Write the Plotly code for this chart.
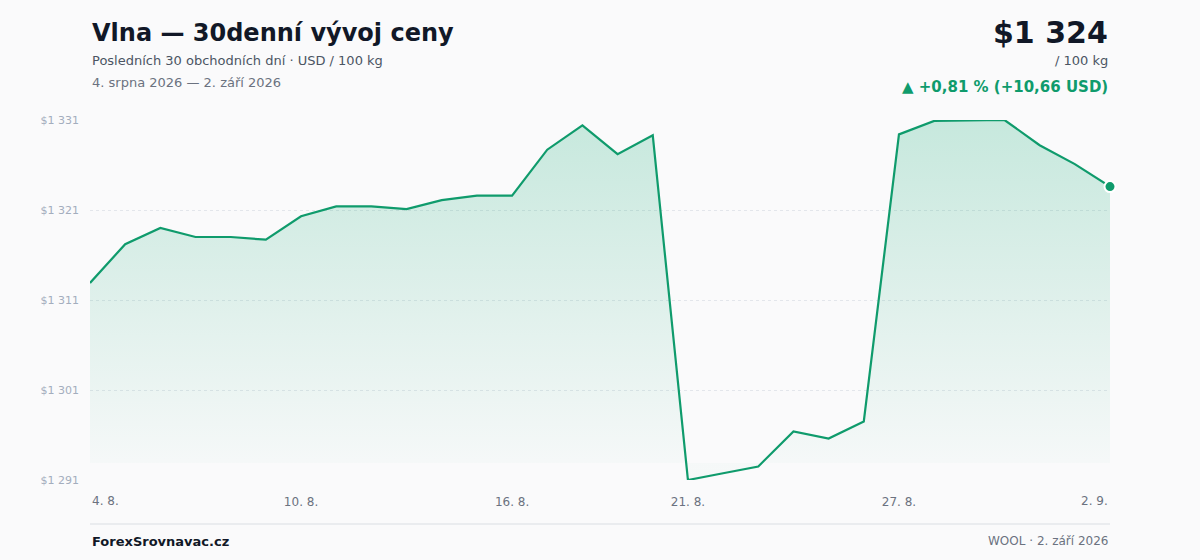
import plotly.graph_objects as go

# ---- data ----
dates = [
    "2026-08-04", "2026-08-05", "2026-08-06", "2026-08-07", "2026-08-08",
    "2026-08-09", "2026-08-10", "2026-08-11", "2026-08-12", "2026-08-13",
    "2026-08-14", "2026-08-15", "2026-08-16", "2026-08-17", "2026-08-18",
    "2026-08-19", "2026-08-20", "2026-08-21", "2026-08-22", "2026-08-23",
    "2026-08-24", "2026-08-25", "2026-08-26", "2026-08-27", "2026-08-28",
    "2026-08-29", "2026-08-30", "2026-08-31", "2026-09-01", "2026-09-02",
]
prices = [
    1312.9, 1317.2, 1319.0, 1318.0, 1318.0, 1317.7, 1320.3, 1321.4, 1321.4, 1321.1,
    1322.1, 1322.6, 1322.6, 1327.7, 1330.4, 1327.2, 1329.3, 1291.0, 1291.75, 1292.5,
    1296.4, 1295.6, 1297.5, 1329.4, 1330.9, 1330.95, 1331.0, 1328.2, 1326.1, 1323.6,
]
x_tick_vals = ["2026-08-04", "2026-08-10", "2026-08-16", "2026-08-21", "2026-08-27", "2026-09-02"]
x_tick_text = ["4. 8.", "10. 8.", "16. 8.", "21. 8.", "27. 8.", "2. 9."]
y_tick_vals = [1291, 1301, 1311, 1321, 1331]
y_tick_text = ["$1 291", "$1 301", "$1 311", "$1 321", "$1 331"]
fill_base = 1292.9

title = "Vlna — 30denní vývoj ceny"
subtitle = "Posledních 30 obchodních dní · USD / 100 kg"
date_range = "4. srpna 2026 — 2. září 2026"
last_price = "$1 324"
unit = "/ 100 kg"
change = "▲ +0,81 % (+10,66 USD)"
brand = "ForexSrovnavac.cz"
source = "WOOL · 2. září 2026"

# ---- style ----
GREEN = "#0f9b6c"
BG = "#fafafb"
FONT = "DejaVu Sans"
W, H = 1200, 560
ML, MR, MT, MB = 90, 90, 120, 80
PLOT_H = H - MT - MB
XTICK_FONT = dict(size=12, color="#6b7280", family=FONT)


def py(y_px):
    """pixel y (from top) -> paper y"""
    return (H - MB - y_px) / PLOT_H


fig = go.Figure()

fig.add_trace(go.Scatter(
    x=dates, y=[fill_base] * len(dates), mode="lines",
    line=dict(width=0, color="rgba(0,0,0,0)"), hoverinfo="skip", showlegend=False,
))
fig.add_trace(go.Scatter(
    x=dates, y=prices, mode="lines", fill="tonexty",
    line=dict(color=GREEN, width=2.2),
    fillgradient=dict(
        type="vertical",
        colorscale=[[0, "rgba(16,160,110,0.02)"], [1, "rgba(16,170,115,0.22)"]],
        start=fill_base, stop=max(prices),
    ),
    showlegend=False,
))
fig.add_trace(go.Scatter(
    x=[dates[-1]], y=[prices[-1]], mode="markers",
    marker=dict(color=GREEN, size=11, line=dict(color="white", width=2)),
    showlegend=False, cliponaxis=False,
))

ann = []
ann.append(dict(text=f"<b>{title}</b>", x=0, y=py(33), xanchor="left", yanchor="middle",
                font=dict(size=24, color="#111827", family=FONT)))
ann.append(dict(text=subtitle, x=0, y=py(61), xanchor="left", yanchor="middle",
                font=dict(size=13, color="#4b5563", family=FONT)))
ann.append(dict(text=date_range, x=0, y=py(83), xanchor="left", yanchor="middle",
                font=dict(size=13, color="#6b7280", family=FONT)))
ann.append(dict(text=f"<b>{last_price}</b>", x=1, y=py(32), xanchor="right", yanchor="middle",
                font=dict(size=30, color="#111827", family=FONT)))
ann.append(dict(text=unit, x=1, y=py(61), xanchor="right", yanchor="middle",
                font=dict(size=13, color="#4b5563", family=FONT)))
ann.append(dict(text=f"<b>{change}</b>", x=1, y=py(87), xanchor="right", yanchor="middle",
                font=dict(size=15, color=GREEN, family=FONT)))
ann.append(dict(text=f"<b>{brand}</b>", x=0, y=py(541), xanchor="left", yanchor="middle",
                font=dict(size=13, color="#111827", family=FONT)))
ann.append(dict(text=source, x=1, y=py(541), xanchor="right", yanchor="middle",
                font=dict(size=12, color="#6b7280", family=FONT)))
for a in ann:
    a.update(xref="paper", yref="paper", showarrow=False)

# first / last x labels are aligned to the plot edges
ann.append(dict(text=x_tick_text[0], x=x_tick_vals[0], xref="x", y=py(501), yref="paper",
                xanchor="left", yanchor="middle", showarrow=False, font=XTICK_FONT))
ann.append(dict(text=x_tick_text[-1], x=x_tick_vals[-1], xref="x", y=py(501), yref="paper",
                xanchor="right", yanchor="middle", showarrow=False, font=XTICK_FONT))

fig.update_layout(
    width=W, height=H,
    margin=dict(l=ML, r=MR, t=MT, b=MB),
    paper_bgcolor=BG, plot_bgcolor=BG,
    font=dict(family=FONT),
    annotations=ann,
    shapes=[dict(type="line", xref="paper", yref="paper", x0=0, x1=1,
                 y0=py(524), y1=py(524), line=dict(color="#e5e7eb", width=1.5))],
    xaxis=dict(
        range=[dates[0], dates[-1]], tickvals=x_tick_vals[1:-1], ticktext=x_tick_text[1:-1],
        showgrid=False, zeroline=False, showline=False, ticks="",
        tickfont=XTICK_FONT, ticklabelstandoff=13,
    ),
    yaxis=dict(
        range=[1291, 1331], tickvals=y_tick_vals, ticktext=y_tick_text,
        showgrid=True, gridcolor="#e3e6eb", griddash="dot", gridwidth=1,
        zeroline=False, showline=False, ticks="",
        tickfont=dict(size=11, color="#a3adbd", family=FONT), ticklabelstandoff=10,
    ),
)

fig.write_html(
    "out.html",
    config={"displayModeBar": False},
    post_script=(
        "document.body.style.margin='0';"
        "document.body.style.background='" + BG + "';"
        "document.documentElement.style.background='" + BG + "';"
    ),
)
